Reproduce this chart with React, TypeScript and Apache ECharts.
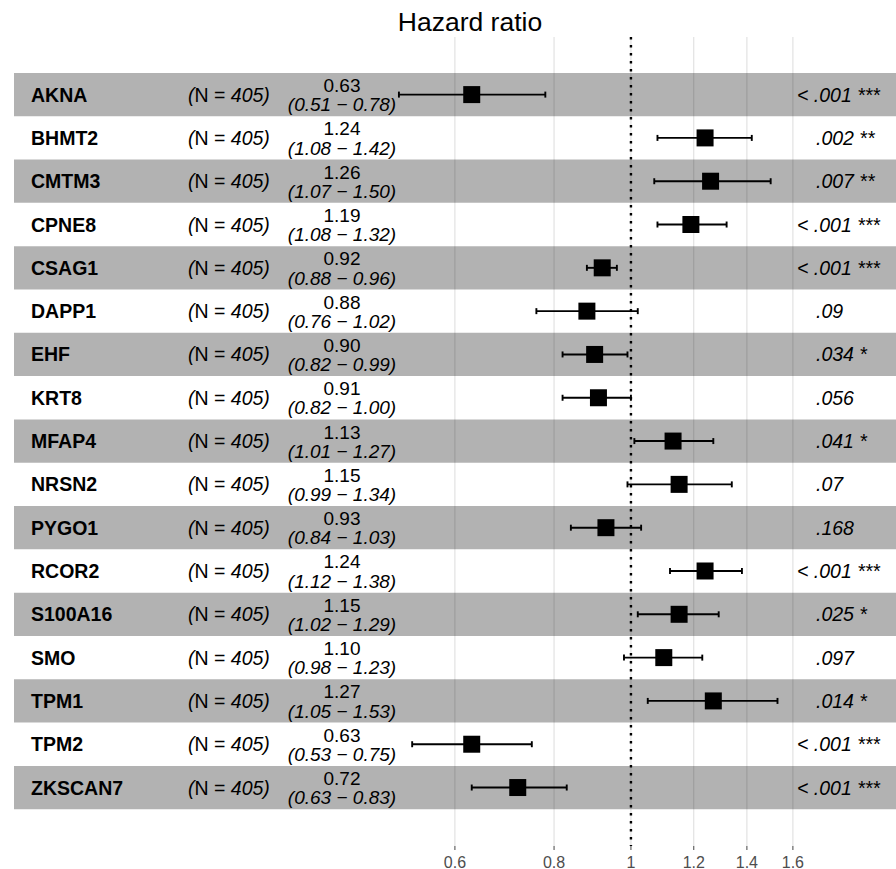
import React, { useEffect, useRef } from "react";
import * as echarts from "echarts";

// Cox model results per gene
const genes = [
  "AKNA", "BHMT2", "CMTM3", "CPNE8", "CSAG1", "DAPP1", "EHF", "KRT8", "MFAP4",
  "NRSN2", "PYGO1", "RCOR2", "S100A16", "SMO", "TPM1", "TPM2", "ZKSCAN7",
];
const counts = [405, 405, 405, 405, 405, 405, 405, 405, 405, 405, 405, 405, 405, 405, 405, 405, 405];
const hazardRatios = [0.63, 1.24, 1.26, 1.19, 0.92, 0.88, 0.90, 0.91, 1.13, 1.15, 0.93, 1.24, 1.15, 1.10, 1.27, 0.63, 0.72];
const ciLower = [0.51, 1.08, 1.07, 1.08, 0.88, 0.76, 0.82, 0.82, 1.01, 0.99, 0.84, 1.12, 1.02, 0.98, 1.05, 0.53, 0.63];
const ciUpper = [0.78, 1.42, 1.50, 1.32, 0.96, 1.02, 0.99, 1.00, 1.27, 1.34, 1.03, 1.38, 1.29, 1.23, 1.53, 0.75, 0.83];
const pLabels = [
  "< .001 ***", ".002 **", ".007 **", "< .001 ***", "< .001 ***", ".09", ".034 *", ".056",
  ".041 *", ".07", ".168", "< .001 ***", ".025 *", ".097", ".014 *", "< .001 ***", "< .001 ***",
];
const xTicks = [0.6, 0.8, 1, 1.2, 1.4, 1.6];
const xTickLabels = ["0.6", "0.8", "1", "1.2", "1.4", "1.6"];

const FONT = '"Liberation Sans", Arial, Helvetica, sans-serif';
const X_MIN = 0.1669;
const X_MAX = 2.158;
const Y_MIN = -0.83;
const Y_MAX = 17.85;
const TXT = 19.5;
const EST_TXT = 19;

export default function App() {
  const ref = useRef<HTMLDivElement>(null);

  useEffect(() => {
    document.body.style.margin = "0";
    if (!ref.current) return;
    const chart = echarts.init(ref.current, null, { renderer: "svg" });

    const bandData = genes.map((_, i) => [X_MIN, i]).filter((_, i) => i % 2 === 0);
    const rowData = genes.map((_, i) => [hazardRatios[i], i, ciLower[i], ciUpper[i]]);
    const tickData = xTicks.map((v, i) => [v, 0, i]);

    const option: any = {
      animation: false,
      grid: { left: 14, right: 0, top: 37, bottom: 23, containLabel: false },
      xAxis: {
        type: "log",
        logBase: 10,
        min: X_MIN,
        max: X_MAX,
        axisLine: { show: false },
        axisTick: { show: false },
        axisLabel: { show: false },
        splitLine: { show: false },
      },
      yAxis: {
        type: "value",
        min: Y_MIN,
        max: Y_MAX,
        inverse: true,
        axisLine: { show: false },
        axisTick: { show: false },
        axisLabel: { show: false },
        splitLine: { show: false },
      },
      graphic: [
        {
          type: "text",
          x: 470,
          y: 21.5,
          style: {
            text: "Hazard ratio",
            fontSize: 26.5,
            fontFamily: FONT,
            fill: "#000",
            align: "center",
            verticalAlign: "middle",
          },
        },
      ],
      series: [
        // vertical grid lines, ticks and tick labels
        {
          type: "custom",
          z: 1,
          clip: false,
          encode: { x: 0, y: 1 },
          data: tickData,
          renderItem: (params: any, api: any) => {
            const v = api.value(0);
            const idx = api.value(2);
            const top = api.coord([v, Y_MIN]);
            const bot = api.coord([v, Y_MAX]);
            return {
              type: "group",
              children: [
                {
                  type: "line",
                  shape: { x1: top[0], y1: top[1], x2: bot[0], y2: bot[1] },
                  style: { stroke: "#dcdcdc", lineWidth: 1 },
                },
                {
                  type: "line",
                  shape: { x1: bot[0], y1: bot[1], x2: bot[0], y2: bot[1] + 4 },
                  style: { stroke: "#444", lineWidth: 1 },
                },
                {
                  type: "text",
                  x: bot[0],
                  y: bot[1] + 16,
                  style: {
                    text: xTickLabels[idx],
                    fontSize: 16,
                    fontFamily: FONT,
                    fill: "#4d4d4d",
                    align: "center",
                    verticalAlign: "middle",
                  },
                },
              ],
            };
          },
        },
        // alternating row bands
        {
          type: "custom",
          z: 2,
          clip: false,
          encode: { x: 0, y: 1 },
          data: bandData,
          renderItem: (params: any, api: any) => {
            const i = api.value(1);
            const p0 = api.coord([X_MIN, i]);
            const p1 = api.coord([X_MAX, i + 1]);
            return {
              type: "rect",
              shape: { x: p0[0], y: p0[1], width: p1[0] - p0[0], height: p1[1] - p0[1] },
              style: { fill: "rgba(0,0,0,0.3)" },
            };
          },
        },
        // reference line at HR = 1
        {
          type: "custom",
          z: 3,
          clip: false,
          encode: { x: 0, y: 1 },
          data: [[1, 0]],
          renderItem: (params: any, api: any) => {
            const top = api.coord([1, Y_MIN]);
            const bot = api.coord([1, Y_MAX]);
            return {
              type: "line",
              shape: { x1: top[0], y1: top[1], x2: bot[0], y2: bot[1] },
              style: { stroke: "#000", lineWidth: 2.4, lineDash: [2.4, 5.6] },
            };
          },
        },
        // estimates, confidence intervals and table text
        {
          type: "custom",
          z: 4,
          clip: false,
          encode: { x: 0, y: 1 },
          data: rowData,
          renderItem: (params: any, api: any) => {
            const i = params.dataIndex;
            const c = api.coord([api.value(0), api.value(1) + 0.5]);
            const lo = api.coord([api.value(2), api.value(1) + 0.5]);
            const hi = api.coord([api.value(3), api.value(1) + 0.5]);
            const yc = c[1];
            const sq = 17;
            const cap = 3;
            const lineStyle = { stroke: "#000", lineWidth: 1.9 };
            const pText = pLabels[i];
            const ciText = "(" + ciLower[i].toFixed(2) + " \u2212 " + ciUpper[i].toFixed(2) + ")";
            return {
              type: "group",
              children: [
                { type: "line", shape: { x1: lo[0], y1: yc, x2: hi[0], y2: yc }, style: lineStyle },
                { type: "line", shape: { x1: lo[0], y1: yc - cap, x2: lo[0], y2: yc + cap }, style: lineStyle },
                { type: "line", shape: { x1: hi[0], y1: yc - cap, x2: hi[0], y2: yc + cap }, style: lineStyle },
                {
                  type: "rect",
                  shape: { x: c[0] - sq / 2, y: yc - sq / 2, width: sq, height: sq },
                  style: { fill: "#000" },
                },
                {
                  type: "text",
                  x: 31,
                  y: yc,
                  style: {
                    text: genes[i],
                    fontSize: TXT,
                    fontWeight: "bold",
                    fontFamily: FONT,
                    fill: "#000",
                    align: "left",
                    verticalAlign: "middle",
                  },
                },
                {
                  type: "text",
                  x: 188,
                  y: yc,
                  style: {
                    text: "{it|(}N = {it|" + counts[i] + ")}",
                    fontSize: TXT,
                    fontFamily: FONT,
                    fill: "#000",
                    align: "left",
                    verticalAlign: "middle",
                    rich: {
                      it: { fontSize: TXT, fontFamily: FONT, fontStyle: "italic", fill: "#000" },
                    },
                  },
                },
                {
                  type: "text",
                  x: 342,
                  y: yc - 9,
                  style: {
                    text: hazardRatios[i].toFixed(2),
                    fontSize: EST_TXT,
                    fontFamily: FONT,
                    fill: "#000",
                    align: "center",
                    verticalAlign: "middle",
                  },
                },
                {
                  type: "text",
                  x: 342,
                  y: yc + 10.2,
                  style: {
                    text: ciText,
                    fontSize: EST_TXT,
                    fontStyle: "italic",
                    fontFamily: FONT,
                    fill: "#000",
                    align: "center",
                    verticalAlign: "middle",
                  },
                },
                {
                  type: "text",
                  x: pText.startsWith("<") ? 797 : 816,
                  y: yc,
                  style: {
                    text: pText,
                    fontSize: TXT,
                    fontStyle: "italic",
                    fontFamily: FONT,
                    fill: "#000",
                    align: "left",
                    verticalAlign: "middle",
                  },
                },
              ],
            };
          },
        },
      ],
    };

    chart.setOption(option);
    return () => chart.dispose();
  }, []);

  return <div ref={ref} style={{ width: 896, height: 869 }} />;
}
